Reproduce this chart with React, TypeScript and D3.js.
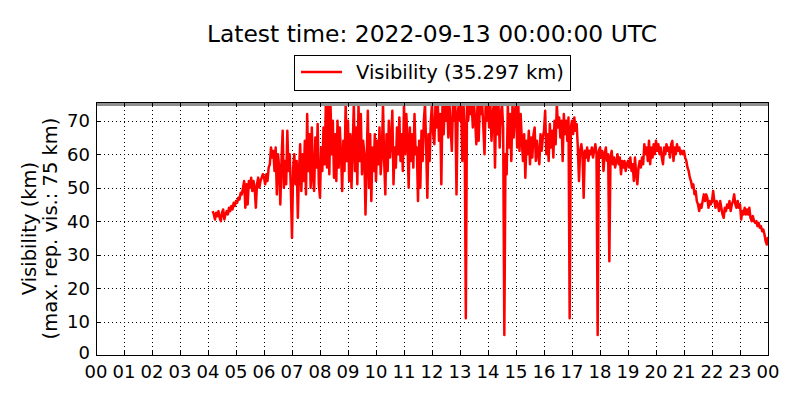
import { useEffect, useRef } from 'react';
import * as d3 from 'd3';

// Visibility readings (km), one every 2.5 minutes from 04:10 UTC to 24:00 UTC
const startHour = 4 + 10 / 60;
const stepHours = 2.5 / 60;
const visibility: number[] = [
  // 04 (from 04:10)
  43, 42, 40.5, 42.5, 41.5, 43, 41, 40, 42.5, 43.5, 40.5, 42, 43, 42, 44, 43, 44.5, 43.5, 45.5, 44.5,
  // 05
  46, 45.5, 47, 46.5, 48.5, 48, 50, 52, 44, 51, 45, 52, 50, 53, 49, 52, 50, 44, 51, 53, 50, 52, 53, 54,
  // 06
  53, 51, 54, 52, 56, 57, 62, 59, 61, 55, 62, 48, 60, 56, 45, 58, 67, 50, 58, 51, 67, 55, 60, 50,
  // 07
  35, 56, 60, 51, 58, 41, 55, 63, 49, 60, 52, 64, 48, 72, 55, 66, 50, 68, 53, 49, 65, 56, 69, 51,
  // 08
  47, 62, 55, 68, 57, 75, 56, 75, 54, 75, 60, 70, 53, 66, 52, 70, 56, 68, 60, 49, 64, 55, 75, 58,
  // 09
  70, 52, 66, 50, 62, 75, 55, 68, 51, 75, 58, 72, 54, 64, 60, 42, 58, 73, 50, 66, 46, 62, 55, 66,
  // 10
  52, 64, 57, 68, 54, 60, 75, 58, 48, 66, 55, 70, 59, 64, 73, 51, 62, 56, 68, 60, 71, 58, 66, 55,
  // 11
  75, 60, 72, 64, 50, 68, 58, 66, 56, 72, 60, 62, 46, 64, 50, 67, 58, 70, 75, 62, 47, 66, 58, 70,
  // 12
  75, 66, 63, 75, 68, 75, 64, 72, 51, 75, 66, 75, 70, 75, 65, 75, 68, 61, 75, 70, 75, 48, 72, 75,
  // 13
  70, 75, 58, 75, 68, 11, 75, 70, 75, 72, 75, 68, 75, 70, 63, 75, 64, 75, 72, 75, 68, 60, 75, 70,
  // 14
  75, 68, 75, 64, 72, 75, 56, 75, 66, 75, 62, 72, 75, 68, 6, 60, 54, 75, 62, 72, 58, 75, 65, 73,
  // 15
  75, 62, 75, 61, 72, 64, 58, 66, 53, 64, 60, 67, 57, 65, 59, 66, 68, 58, 64, 60, 57, 66, 61, 65,
  // 16
  67, 73, 60, 66, 58, 69, 62, 67, 59, 70, 63, 75, 68, 71, 65, 70, 58, 72, 66, 70, 64, 71, 11, 68,
  // 17
  70, 66, 71, 67, 69, 62, 52, 61, 63, 60, 47, 61, 59, 62, 58, 61, 60, 62, 59, 61, 63, 60, 6, 61,
  // 18
  62, 59, 61, 55, 60, 62, 58, 60, 28, 59, 61, 57, 59, 56, 58, 60, 57, 59, 54, 58, 56, 58, 55, 57,
  // 19
  58, 56, 59, 55, 57, 52, 59, 54, 51, 56, 58, 56, 59, 57, 63, 60, 62, 58, 64, 57, 62, 59, 63, 60,
  // 20
  64, 61, 63, 60, 62, 59, 57, 62, 60, 63, 61, 62, 59, 63, 64, 58, 62, 60, 63, 61, 62, 60, 61, 60,
  // 21
  61, 59, 58, 56, 55, 53, 52, 50, 51, 48, 49, 46, 45, 43, 45, 44, 46, 48, 46, 48, 47, 44, 46, 45,
  // 22
  46, 49, 46, 44, 46, 45, 43, 46, 44, 42, 41, 44, 43, 45, 44, 46, 43, 45, 46, 48, 45, 44, 46, 44,
  // 23
  45, 40.5, 43, 42, 44, 42, 43.5, 42, 44, 41, 40, 41.5, 40, 39.5, 40, 38.5, 39.5, 38, 38.5, 37, 37.5, 36, 34, 33,
  // 24
  35.297,
];

const hourTicks = d3.range(0, 25);
const visTicks = [0, 10, 20, 30, 40, 50, 60, 70];
const maxReportedVis = 75;
const latestTime = '2022-09-13 00:00:00 UTC';
const latestVis = visibility[visibility.length - 1];

export default function App() {
  const svgRef = useRef<SVGSVGElement>(null);

  useEffect(() => {
    if (!svgRef.current) return;
    const svg = d3.select(svgRef.current);
    svg.selectAll('*').remove();

    const margin = { top: 102, right: 32, bottom: 45, left: 96 };
    const width = 800 - margin.left - margin.right;
    const height = 400 - margin.top - margin.bottom;
    const font = '"DejaVu Sans", sans-serif';

    const x = d3.scaleLinear().domain([0, 24]).range([0, width]);
    const y = d3.scaleLinear().domain([0, 75.6]).range([height, 0]);

    const g = svg.append('g').attr('transform', `translate(${margin.left},${margin.top})`);

    // dotted grid
    g.append('g')
      .selectAll('line')
      .data(hourTicks.slice(1, -1))
      .join('line')
      .attr('x1', d => x(d) + 0.5).attr('x2', d => x(d) + 0.5)
      .attr('y1', 0).attr('y2', height)
      .attr('stroke', '#000').attr('stroke-width', 1)
      .attr('stroke-dasharray', '1,3');

    g.append('g')
      .selectAll('line')
      .data(visTicks.slice(1))
      .join('line')
      .attr('x1', 0).attr('x2', width)
      .attr('y1', d => Math.round(y(d)) + 0.5).attr('y2', d => Math.round(y(d)) + 0.5)
      .attr('stroke', '#000').attr('stroke-width', 1)
      .attr('stroke-dasharray', '1,3');

    // visibility line
    const line = d3.line<number>()
      .x((_, i) => x(startHour + i * stepHours))
      .y(d => y(d));

    g.append('path')
      .datum(visibility)
      .attr('fill', 'none')
      .attr('stroke', '#ff0000')
      .attr('stroke-width', 2.5)
      .attr('stroke-linejoin', 'round')
      .attr('d', line);

    // max reported visibility
    g.append('line')
      .attr('x1', 0).attr('x2', width)
      .attr('y1', y(maxReportedVis)).attr('y2', y(maxReportedVis))
      .attr('stroke', '#8f8f8f')
      .attr('stroke-width', 4);

    // frame
    g.append('rect')
      .attr('x', 0.5).attr('y', 0.5)
      .attr('width', width).attr('height', height)
      .attr('fill', 'none').attr('stroke', '#000').attr('stroke-width', 1);

    // inward ticks
    const tickLen = 4;
    hourTicks.forEach(h => {
      g.append('line').attr('x1', x(h) + 0.5).attr('x2', x(h) + 0.5).attr('y1', height).attr('y2', height - tickLen).attr('stroke', '#000');
      g.append('line').attr('x1', x(h) + 0.5).attr('x2', x(h) + 0.5).attr('y1', 0).attr('y2', tickLen).attr('stroke', '#000');
    });
    visTicks.forEach(v => {
      g.append('line').attr('x1', 0).attr('x2', tickLen).attr('y1', Math.round(y(v)) + 0.5).attr('y2', Math.round(y(v)) + 0.5).attr('stroke', '#000');
      g.append('line').attr('x1', width).attr('x2', width - tickLen).attr('y1', Math.round(y(v)) + 0.5).attr('y2', Math.round(y(v)) + 0.5).attr('stroke', '#000');
    });

    // tick labels
    g.append('g')
      .selectAll('text')
      .data(hourTicks)
      .join('text')
      .attr('x', d => x(d))
      .attr('y', height + 23)
      .attr('text-anchor', 'middle')
      .attr('font-family', font)
      .attr('font-size', '18px')
      .text(d => d3.format('02d')(d % 24));

    g.append('g')
      .selectAll('text')
      .data(visTicks)
      .join('text')
      .attr('x', -6)
      .attr('y', d => y(d))
      .attr('dy', d => (d === 0 ? '0.2em' : '0.36em'))
      .attr('text-anchor', 'end')
      .attr('font-family', font)
      .attr('font-size', '18px')
      .text(d => d);

    // y label
    const yl = svg.append('text')
      .attr('transform', `translate(36,${margin.top + height / 2}) rotate(-90)`)
      .attr('text-anchor', 'middle')
      .attr('font-family', font)
      .attr('font-size', '19.5px');
    yl.append('tspan').attr('x', 0).attr('y', 0).text('Visibility (km)');
    yl.append('tspan').attr('x', 0).attr('y', 21).text(`(max. rep. vis.: ${maxReportedVis} km)`);

    // title
    const cx = margin.left + width / 2;
    svg.append('text')
      .attr('x', cx)
      .attr('y', 42)
      .attr('text-anchor', 'middle')
      .attr('font-family', font)
      .attr('font-size', '23.4px')
      .text(`Latest time: ${latestTime}`);

    // legend
    const legend = svg.append('g').attr('transform', `translate(${cx - 138},55)`);
    legend.append('rect')
      .attr('x', 0.5).attr('y', 0.5)
      .attr('width', 276).attr('height', 35)
      .attr('fill', '#fff').attr('stroke', '#000').attr('stroke-width', 1);
    legend.append('line')
      .attr('x1', 7).attr('x2', 48).attr('y1', 17).attr('y2', 17)
      .attr('stroke', '#ff0000').attr('stroke-width', 2.5);
    legend.append('text')
      .attr('x', 62).attr('y', 24)
      .attr('font-family', font)
      .attr('font-size', '19.5px')
      .text(`Visibility (${latestVis.toFixed(3)} km)`);
  }, []);

  return (
    <svg
      ref={svgRef}
      width={800}
      height={400}
      style={{ position: 'absolute', left: 0, top: 0, background: '#fff' }}
    />
  );
}
